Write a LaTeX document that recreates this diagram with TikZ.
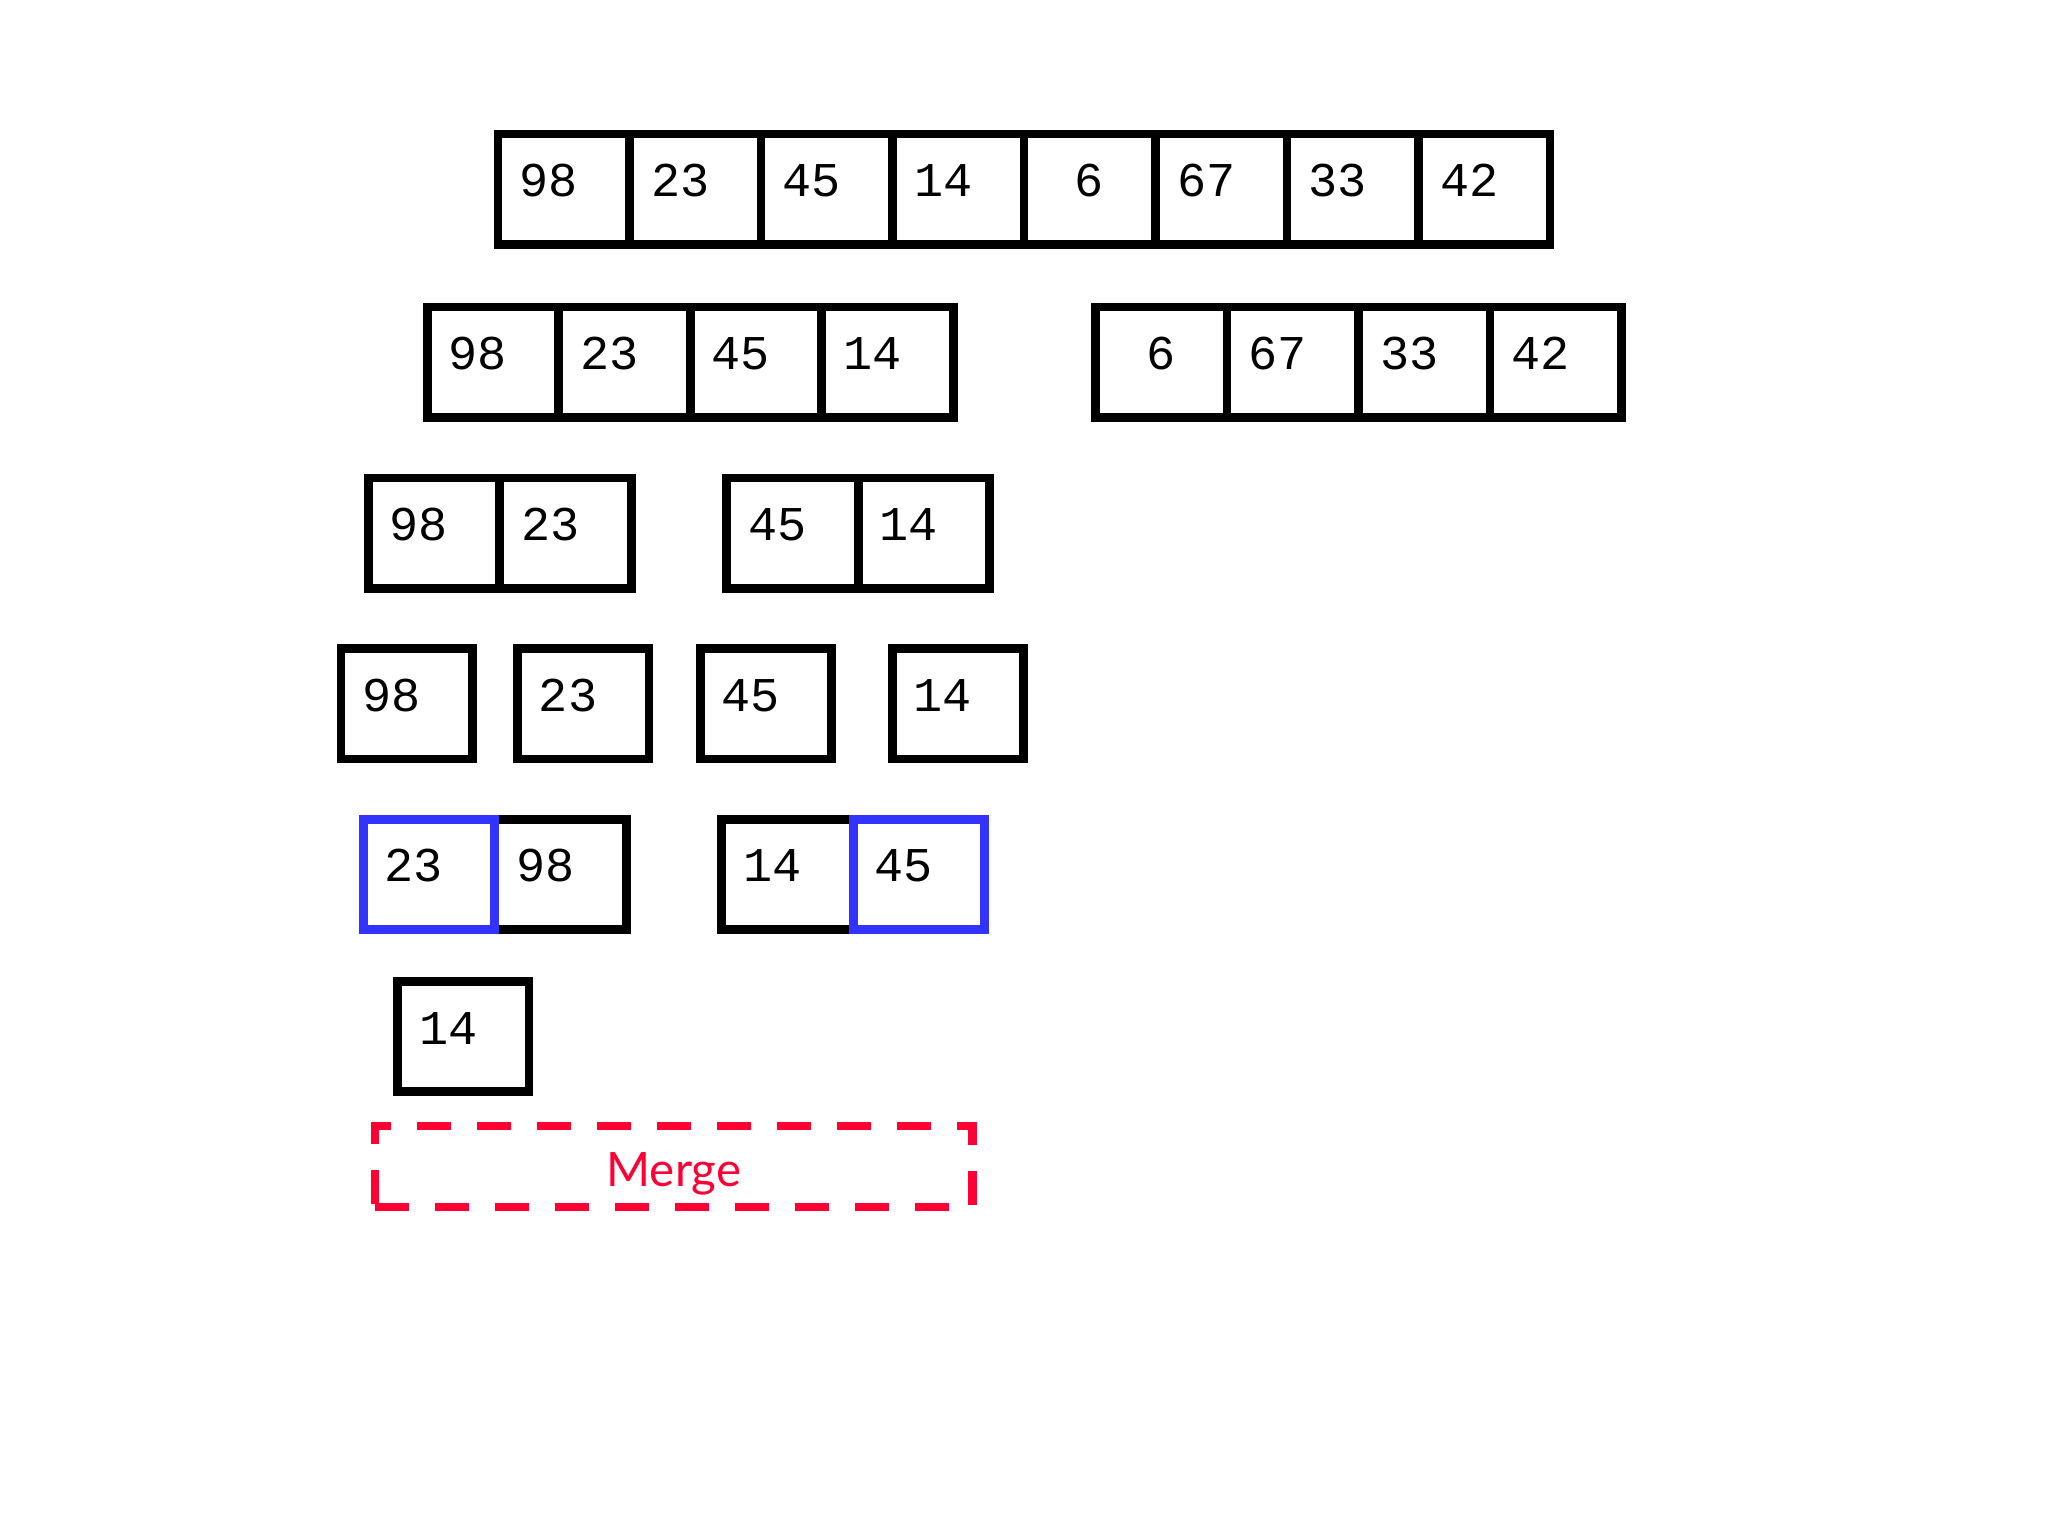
\documentclass[tikz,border=0pt]{standalone}
\usepackage{fontspec}
\setmonofont{Liberation Mono}
\setsansfont{Lato}
\usepackage{tikz}
\usetikzlibrary{positioning}
\definecolor{cellblue}{RGB}{51, 51, 255}
\definecolor{mergered}{RGB}{255, 0, 51}

\begin{document}
\begin{tikzpicture}[
    cell/.style={draw=black, line width=0.088cm, outer sep=0pt, inner xsep=0.215cm, inner ysep=0pt,
      minimum width=1.315cm, minimum height=1.105cm, text width=0.885cm, align=left,
      text height=0.3cm, text depth=0.15cm, font=\fontsize{13.8}{13.8}\selectfont\ttfamily, anchor=west},
    bluecell/.style={cell, draw=cellblue},
    node distance=0pt
  ]
    \useasboundingbox (0,0) rectangle (20.48,15.36);

    %% whole array
    \node[cell] (a1) at (4.980,13.468) {98};
    \node[cell, right=of a1] (a2) {23};
    \node[cell, right=of a2] (a3) {45};
    \node[cell, right=of a3] (a4) {14};
    \node[cell, right=of a4] (a5) {\phantom{0}6};
    \node[cell, right=of a5] (a6) {67};
    \node[cell, right=of a6] (a7) {33};
    \node[cell, right=of a7] (a8) {42};

    %% first split
    \node[cell] (b1) at (4.272,11.737) {98};
    \node[cell, right=of b1] (b2) {23};
    \node[cell, right=of b2] (b3) {45};
    \node[cell, right=of b3] (b4) {14};
    \node[cell] (b5) at (10.955,11.737) {\phantom{0}6};
    \node[cell, right=of b5] (b6) {67};
    \node[cell, right=of b6] (b7) {33};
    \node[cell, right=of b7] (b8) {42};

    %% second split
    \node[cell] (c1) at (3.683,10.028) {98};
    \node[cell, right=of c1] (c2) {23};
    \node[cell] (c3) at (7.268,10.028) {45};
    \node[cell, right=of c3] (c4) {14};

    %% single elements
    \node[cell] (d1) at (3.410,8.323) {98};
    \node[cell] (d2) at (5.174,8.323) {23};
    \node[cell] (d3) at (7.002,8.323) {45};
    \node[cell] (d4) at (8.922,8.323) {14};

    %% merged pairs
    \node[cell] (e2) at (4.948,6.615) {98};
    \node[bluecell, left=of e2] (e1) {23};
    \node[cell] (e3) at (7.217,6.615) {14};
    \node[bluecell, right=of e3] (e4) {45};

    %% next element
    \node[cell] (f1) at (3.975,4.994) {14};

    %% merge step
    \node[draw=mergered, line width=0.085cm, dash pattern=on 0.337cm off 0.263cm,
      minimum width=5.975cm, minimum height=0.81cm, inner sep=0pt,
      text height=0.5cm, text depth=0.1cm,
      text=mergered, font=\fontsize{13.5}{13.5}\selectfont\sffamily] (merge) at (6.738,3.693) {Merge};
\end{tikzpicture}
\end{document}
